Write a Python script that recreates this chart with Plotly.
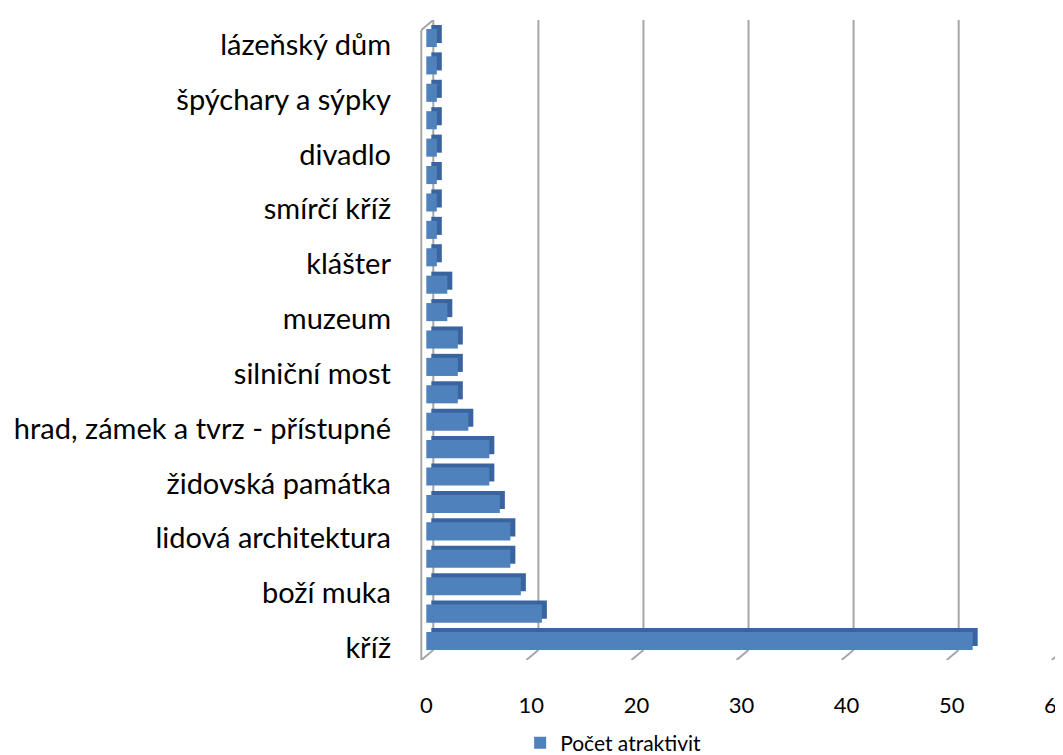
import plotly.graph_objects as go

# ---- data (top of chart to bottom) ----
tick_labels = ["lázeňský dům", "špýchary a sýpky", "divadlo", "smírčí kříž", "klášter",
               "muzeum", "silniční most", "hrad, zámek a tvrz - přístupné",
               "židovská památka", "lidová architektura", "boží muka", "kříž"]
values_top_to_bottom = [1, 1, 1, 1, 1, 1, 1, 1, 1, 2, 2, 3, 3, 3, 4, 6, 6, 7, 8, 8, 9, 11, 52]
x_ticks = [0, 10, 20, 30, 40, 50, 60]
series_name = "Počet atraktivit"

n = len(values_top_to_bottom)
values = values_top_to_bottom[::-1]          # bottom to top
positions = list(range(n))                   # 0 = bottom bar
label_positions = positions[::2]             # every other bar is labelled (bottom up)
labels_bottom_up = tick_labels[::-1]

# ---- geometry (page pixels; the page body has an 8px margin) ----
W, H = 1063, 755
BODY = 8
plot_left, plot_right, plot_top, plot_bottom = 420, 1062, 20, 660
XR = [-0.6, 60.5]
px_per_x = (plot_right - plot_left) / (XR[1] - XR[0])
y_bottom_px, y_top_px = 641, 38              # centres of bottom / top bar
px_per_y = (y_bottom_px - y_top_px) / (n - 1)
YR = [-(plot_bottom - y_bottom_px) / px_per_y, (n - 1) + (y_top_px - plot_top) / px_per_y]

def ypx(p):
    return (y_bottom_px - p) / px_per_y

back_dx = 7 / px_per_x
front_dx = -5 / px_per_x
floor_front = ypx(plot_bottom)
floor_back = ypx(650)
wall_top_front = ypx(30)
wall_top_back = ypx(20)

grid_col = "#A6A6A6"
shapes = []
for v in x_ticks[1:-1]:
    shapes.append(dict(type="line", xref="x", yref="y", x0=v + back_dx, x1=v + back_dx,
                       y0=floor_back, y1=wall_top_back, line=dict(color=grid_col, width=2),
                       layer="below"))
for v in x_ticks:
    shapes.append(dict(type="line", xref="x", yref="y", x0=v + front_dx, x1=v + back_dx,
                       y0=floor_front, y1=floor_back, line=dict(color=grid_col, width=2),
                       layer="below"))
# side wall
shapes += [
    dict(type="line", xref="x", yref="y", x0=front_dx, x1=front_dx, y0=floor_front,
         y1=wall_top_front, line=dict(color=grid_col, width=2), layer="below"),
    dict(type="line", xref="x", yref="y", x0=back_dx, x1=back_dx, y0=floor_back,
         y1=wall_top_back, line=dict(color=grid_col, width=2), layer="below"),
    dict(type="line", xref="x", yref="y", x0=front_dx, x1=back_dx, y0=wall_top_front,
         y1=wall_top_back, line=dict(color=grid_col, width=2), layer="below"),
]

bar_w = 0.66
depth_x = 5 / px_per_x
depth_y = 4 / px_per_y

fig = go.Figure()
fig.add_trace(go.Bar(
    y=positions, x=values, orientation="h", base=depth_x,
    width=bar_w, offset=-bar_w / 2 + depth_y,
    marker=dict(color="#3A64A0", line=dict(width=0)),
    showlegend=False, hoverinfo="skip"))
fig.add_trace(go.Bar(
    y=positions, x=values, orientation="h", name=series_name,
    width=bar_w, offset=-bar_w / 2,
    marker=dict(color="#4F81BD", line=dict(width=0)),
    showlegend=True))

font_family = "Lato, 'Open Sans', sans-serif"
fig.update_layout(
    width=W - BODY, height=H - BODY,
    margin=dict(l=plot_left - BODY, r=W - plot_right, t=plot_top - BODY, b=H - plot_bottom,
                autoexpand=False),
    paper_bgcolor="white", plot_bgcolor="white",
    barmode="overlay",
    font=dict(family=font_family, color="black"),
    showlegend=True,
    legend=dict(orientation="h", x=0.156, xanchor="left",
                y=(plot_bottom - 743) / (plot_bottom - plot_top), yanchor="middle",
                font=dict(size=21, family=font_family), itemsizing="constant"),
    shapes=shapes,
)
fig.update_xaxes(range=XR, tickvals=x_ticks, ticktext=[str(v) for v in x_ticks],
                 showgrid=False, zeroline=False, showline=False, automargin=False,
                 ticklabeloverflow="allow",
                 tickfont=dict(size=22), ticklabelstandoff=30)
fig.update_yaxes(range=YR, tickvals=[p - 0.25 for p in label_positions],
                 ticktext=labels_bottom_up,
                 showgrid=False, zeroline=False, showline=False, automargin=False,
                 tickfont=dict(size=29), ticklabelstandoff=28)

fig.write_html("out.html")
